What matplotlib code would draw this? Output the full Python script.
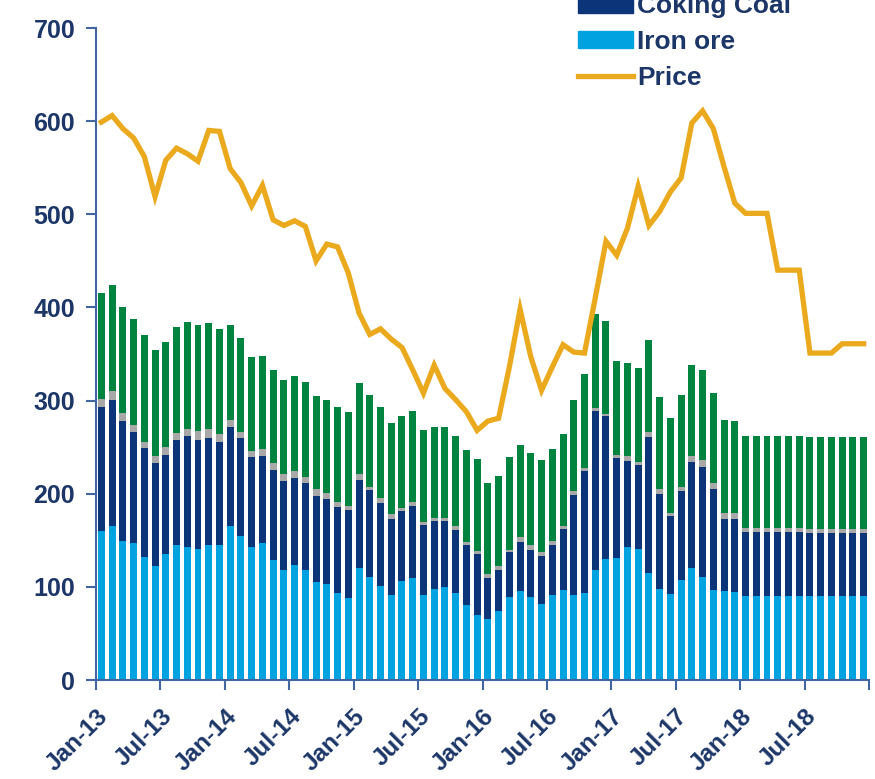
import matplotlib
matplotlib.use("Agg")
import matplotlib.pyplot as plt
from matplotlib.patches import Patch
from matplotlib.lines import Line2D
import numpy as np

# monthly, Jan-13 .. Dec-18
iron_ore = [160, 165, 149, 147, 132, 122, 135, 145, 143, 141, 145, 145,
            165, 155, 143, 147, 129, 118, 123, 118, 105, 103, 93, 88,
            120, 111, 101, 91, 106, 110, 91, 98, 100, 93, 81, 70,
            65, 74, 89, 96, 89, 82, 91, 97, 91, 93, 118, 130,
            131, 143, 141, 115, 98, 92, 107, 120, 111, 97, 96, 95,
            90, 90, 90, 90, 90, 90, 90, 90, 90, 90, 90, 90]
coking_coal = [133, 136, 129, 119, 117, 111, 107, 113, 119, 117, 115, 110,
               107, 105, 96, 93, 96, 96, 94, 93, 93, 91, 93, 95,
               95, 93, 89, 82, 75, 77, 75, 73, 71, 68, 64, 65,
               45, 44, 48, 52, 51, 51, 54, 65, 108, 131, 171, 153,
               107, 92, 90, 146, 102, 84, 96, 114, 118, 108, 77, 78,
               69, 69, 69, 69, 69, 69, 68, 68, 68, 68, 68, 68]
other = [9, 9, 9, 8, 7, 7, 8, 7, 8, 9, 9, 9,
         7, 6, 7, 8, 8, 7, 7, 7, 7, 7, 5, 4,
         6, 3, 5, 5, 4, 4, 4, 3, 3, 4, 3, 4,
         4, 4, 3, 6, 5, 4, 4, 3, 4, 4, 3, 3,
         4, 5, 3, 5, 5, 3, 4, 6, 7, 6, 6, 6,
         4, 4, 4, 4, 4, 4, 4, 4, 4, 4, 4, 4]
margin = [114, 114, 113, 114, 114, 114, 113, 114, 114, 114, 114, 113,
          102, 101, 101, 100, 100, 101, 102, 102, 100, 100, 102, 101,
          98, 99, 98, 98, 98, 98, 98, 98, 98, 97, 99, 98,
          97, 97, 99, 98, 99, 99, 99, 99, 98, 100, 101, 99,
          100, 100, 101, 99, 99, 102, 99, 98, 97, 97, 100, 99,
          99, 99, 99, 99, 99, 99, 99, 99, 99, 99, 99, 99]
price = [599, 606, 592, 582, 562, 519, 558, 571, 565, 557, 590, 589,
         549, 534, 509, 531, 494, 488, 493, 487, 450, 468, 465, 437,
         394, 371, 377, 366, 357, 333, 308, 338, 313, 301, 288, 268,
         278, 281, 336, 398, 347, 311, 336, 360, 352, 351, 410, 471,
         456, 485, 530, 488, 503, 524, 539, 598, 611, 592, 551, 512,
         501, 501, 501, 440, 440, 440, 351, 351, 351, 361, 361, 361]
tick_labels = ["Jan-13", "Jul-13", "Jan-14", "Jul-14", "Jan-15", "Jul-15",
               "Jan-16", "Jul-16", "Jan-17", "Jul-17", "Jan-18", "Jul-18"]

c_iron = "#00a3e0"
c_coal = "#0b3479"
c_other = "#a8a8a8"
c_margin = "#00843f"
c_price = "#eba91e"
c_text = "#1c3668"
c_axis = "#4266a3"

plt.rcParams["font.family"] = ["Liberation Sans", "DejaVu Sans"]
plt.rcParams["font.weight"] = "bold"

fig = plt.figure(figsize=(8.75, 7.79), dpi=100)
ax = fig.add_axes([96 / 875, 1 - 680 / 779, 773 / 875, 652 / 779])

x = np.arange(len(iron_ore))
iron = np.array(iron_ore)
coal = np.array(coking_coal)
oth = np.array(other)
mar = np.array(margin)
w = 0.65
ax.bar(x, iron, w, color=c_iron)
ax.bar(x, coal, w, bottom=iron, color=c_coal)
ax.bar(x, oth, w, bottom=iron + coal, color=c_other)
ax.bar(x, mar, w, bottom=iron + coal + oth, color=c_margin)
ax.plot(x, price, color=c_price, lw=3.8, solid_joinstyle="miter")

ax.set_xlim(-0.5, len(x) - 0.5)
ax.set_ylim(0, 700)
ax.set_yticks(range(0, 701, 100))
ax.set_xticks(np.arange(-0.5, len(x), 6))
ax.set_xticklabels(tick_labels + [""], rotation=45, ha="right", va="top",
                   rotation_mode="anchor")
for s in ["top", "right"]:
    ax.spines[s].set_visible(False)
for s in ["left", "bottom"]:
    ax.spines[s].set_color(c_axis)
    ax.spines[s].set_linewidth(1.5)
ax.tick_params(axis="y", colors=c_axis, length=7, width=1.5, pad=8,
               labelcolor=c_text, labelsize=18)
ax.tick_params(axis="x", colors=c_axis, length=7, width=1.5, pad=11,
               labelcolor=c_text, labelsize=17.5)

handles = [Patch(color=c_coal, label="Coking Coal"),
           Patch(color=c_iron, label="Iron ore"),
           Line2D([], [], color=c_price, lw=3.8, label="Price")]
leg = fig.legend(handles=handles, loc="upper left",
                 bbox_to_anchor=(578 / 875, 1 + 6 / 779), frameon=False,
                 fontsize=19, handlelength=2.1, handleheight=0.65,
                 handletextpad=0.15, labelspacing=0.45, borderpad=0,
                 borderaxespad=0)
for t in leg.get_texts():
    t.set_color(c_text)

fig.savefig("out.png", dpi=100)
